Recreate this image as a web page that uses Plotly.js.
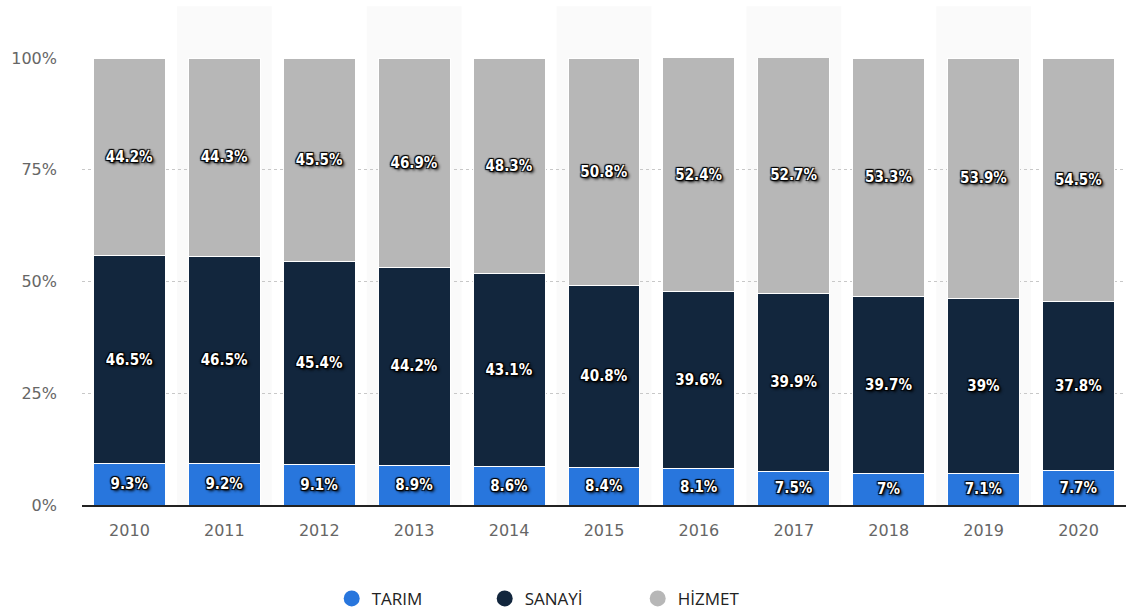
<!DOCTYPE html>
<html>
<head>
<meta charset="utf-8">
<script src="https://cdn.plot.ly/plotly-3.0.1.min.js"></script>
<style>html,body{margin:0;padding:0;background:#fff;}#chart{width:1134px;height:612px;}</style>
</head>
<body>
<div id="chart"></div>
<script>
const years = ['2010','2011','2012','2013','2014','2015','2016','2017','2018','2019','2020'];
const tarim  = [9.3, 9.2, 9.1, 8.9, 8.6, 8.4, 8.1, 7.5, 7.0, 7.1, 7.7];
const sanayi = [46.5, 46.5, 45.4, 44.2, 43.1, 40.8, 39.6, 39.9, 39.7, 39.0, 37.8];
const hizmet = [44.2, 44.3, 45.5, 46.9, 48.3, 50.8, 52.4, 52.7, 53.3, 53.9, 54.5];
const seriesNames = ['TARIM', 'SANAYİ', 'HİZMET'];
const yTicks = [0, 25, 50, 75, 100];

const colors = ['#2876dd', '#12263d', '#b7b7b7'];
const seriesData = [tarim, sanayi, hizmet];
const fmt = v => (Math.round(v*10)/10).toString() + '%';

const traces = [];
seriesData.forEach((vals, i) => {
  traces.push({
    type: 'bar', x: years, y: vals, name: seriesNames[i],
    marker: {color: colors[i], line: {color: '#ffffff', width: 1}},
    text: vals.map(fmt), textposition: 'inside', insidetextanchor: 'middle',
    textangle: 0, constraintext: 'none',
    textfont: {family: 'DejaVu Sans Condensed, DejaVu Sans, Verdana, sans-serif', size: 15, color: '#ffffff', weight: 'bold',
               shadow: '1px 1px 1px #000, -1px -1px 1px #000, 1px -1px 1px #000, -1px 1px 1px #000, 2px 2px 3px #000'},
    showlegend: false, hoverinfo: 'skip'
  });
});
seriesData.forEach((vals, i) => {
  traces.push({
    type: 'scatter', mode: 'markers', x: [null], y: [null], name: seriesNames[i],
    marker: {color: colors[i], size: 18, symbol: 'circle'}, showlegend: true, hoverinfo: 'skip'
  });
});

const shapes = [];
for (let i = 1; i < years.length; i += 2) {
  shapes.push({type: 'rect', xref: 'x', yref: 'paper', x0: i - 0.5, x1: i + 0.5, y0: 0, y1: 1.116,
    fillcolor: '#fafafa', line: {width: 0}, layer: 'below'});
}

const layout = {
  width: 1134, height: 612,
  margin: {l: 82, r: 8, t: 58, b: 107, autoexpand: false},
  paper_bgcolor: '#ffffff', plot_bgcolor: 'rgba(0,0,0,0)',
  barmode: 'stack', bargap: 0.243,
  font: {family: 'DejaVu Sans, Verdana, sans-serif', color: '#666'},
  xaxis: {
    type: 'category', showgrid: false, showline: true, linecolor: '#222', linewidth: 1.5,
    ticks: 'outside', ticklen: 10, tickcolor: 'rgba(0,0,0,0)',
    tickfont: {size: 16, color: '#666'}, range: [-0.5, 10.5], fixedrange: true
  },
  yaxis: {
    range: [0, 100], tickvals: yTicks, ticktext: yTicks.map(v => v + '%'),
    showgrid: true, gridcolor: '#c8c8c8', griddash: 'dot', gridwidth: 1,
    zeroline: false, showline: false, ticks: '', ticklabelstandoff: 24,
    tickfont: {size: 16, color: '#666'}, fixedrange: true
  },
  legend: {
    orientation: 'h', x: 0.459, xanchor: 'center', y: -0.21, yanchor: 'middle',
    font: {family: 'Open Sans, DejaVu Sans, sans-serif', size: 17, color: '#222'},
    itemwidth: 30, entrywidth: 108, traceorder: 'normal'
  },
  shapes: shapes,
  showlegend: true
};

Plotly.newPlot('chart', traces, layout, {displayModeBar: false, staticPlot: true});
</script>
</body>
</html>
